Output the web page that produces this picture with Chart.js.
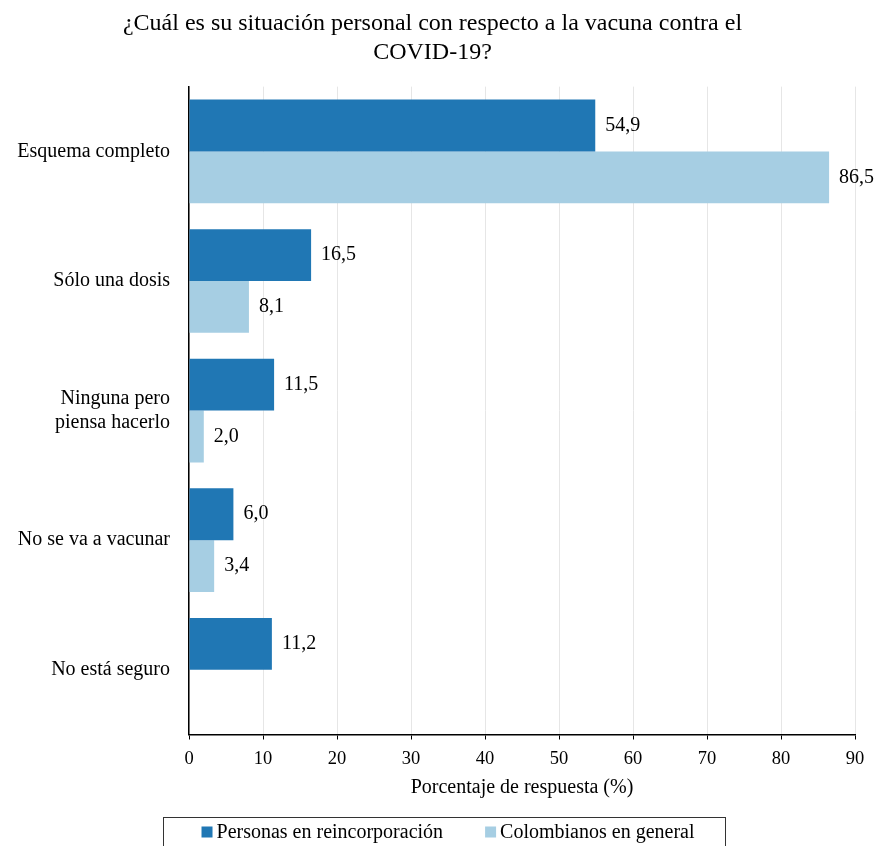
<!DOCTYPE html>
<html>
<head>
<meta charset="utf-8">
<script src="https://cdn.jsdelivr.net/npm/chart.js@4"></script>
<style>
  html, body { margin: 0; padding: 0; background: #fff; }
  #wrap { width: 876px; height: 846px; }
</style>
</head>
<body>
<div id="wrap"><canvas id="vacunaChart"></canvas></div>
<script>
const categories = [
  "Esquema completo",
  "Sólo una dosis",
  ["Ninguna pero", "piensa hacerlo"],
  "No se va a vacunar",
  "No está seguro",
];
const reincorporacion = [54.9, 16.5, 11.5, 6.0, 11.2];
const colombianos = [86.5, 8.1, 2.0, 3.4, null];
const xTicks = [0, 10, 20, 30, 40, 50, 60, 70, 80, 90];

const serif = "'Liberation Serif', 'DejaVu Serif', serif";

// labels "54,9" at the end of each bar
const barLabels = {
  id: "barLabels",
  afterDatasetsDraw(chart) {
    const ctx = chart.ctx;
    ctx.save();
    ctx.font = "20px " + serif;
    ctx.fillStyle = "#000";
    ctx.textBaseline = "middle";
    chart.data.datasets.forEach((ds, i) => {
      chart.getDatasetMeta(i).data.forEach((bar, j) => {
        const v = ds.data[j];
        if (v === null || v === undefined) return;
        ctx.fillText(v.toFixed(1).replace(".", ","), bar.x + 10, bar.y);
      });
    });
    ctx.restore();
  },
};

// boxed legend under the axis title
const boxedLegend = {
  id: "boxedLegend",
  afterDraw(chart) {
    const ctx = chart.ctx;
    const sets = chart.data.datasets;
    const sq = 11, gapText = 4, gapItem = 42;
    ctx.save();
    ctx.font = "20px " + serif;
    const widths = sets.map(ds => sq + gapText + ctx.measureText(ds.label).width);
    const total = widths.reduce((a, b) => a + b, 0) + gapItem * (sets.length - 1);
    let x = chart.width / 2 + 10 - total / 2;
    const y = chart.height - 14;
    ctx.strokeStyle = "#333";
    ctx.lineWidth = 1;
    ctx.strokeRect(Math.round(x - 39) + 0.5, y - 14.5, Math.round(total + 69), 40);
    ctx.textBaseline = "middle";
    sets.forEach((ds, i) => {
      ctx.fillStyle = ds.backgroundColor;
      ctx.fillRect(x, y - sq / 2, sq, sq);
      ctx.fillStyle = "#000";
      ctx.fillText(ds.label, x + sq + gapText, y + 1);
      x += widths[i] + gapItem;
    });
    ctx.restore();
  },
};

new Chart(document.getElementById("vacunaChart"), {
  type: "bar",
  data: {
    labels: categories,
    datasets: [
      {
        label: "Personas en reincorporación",
        data: reincorporacion,
        backgroundColor: "#2077b4",
        categoryPercentage: 0.8,
        barPercentage: 1.0,
      },
      {
        label: "Colombianos en general",
        data: colombianos,
        backgroundColor: "#a6cee3",
        categoryPercentage: 0.8,
        barPercentage: 1.0,
      },
    ],
  },
  options: {
    indexAxis: "y",
    responsive: true,
    maintainAspectRatio: false,
    animation: false,
    layout: { padding: { left: 10, right: 21, top: 0, bottom: 48 } },
    scales: {
      x: {
        min: 0,
        max: 90,
        afterBuildTicks(axis) {
          axis.ticks = xTicks.map(v => ({ value: v }));
        },
        grid: { color: "#e6e6e6", tickColor: "#000", tickLength: 5 },
        border: { color: "#000", width: 1.5 },
        ticks: { color: "#000", font: { family: serif, size: 18.5, lineHeight: 1 }, padding: 10 },
        title: {
          display: true,
          text: "Porcentaje de respuesta (%)",
          color: "#000",
          font: { family: serif, size: 20, lineHeight: 1 },
          padding: { top: 0, bottom: 0 },
        },
      },
      y: {
        afterFit(axis) { axis.width = 179; },
        grid: { display: false },
        border: { color: "#000", width: 1.5 },
        ticks: { color: "#000", font: { family: serif, size: 20 }, padding: 11 },
      },
    },
    plugins: {
      title: {
        display: true,
        text: [
          "¿Cuál es su situación personal con respecto a la vacuna contra el",
          "COVID-19?",
        ],
        color: "#000",
        font: { family: serif, size: 24, weight: "normal", lineHeight: 1.18 },
        padding: { top: 10, bottom: 20 },
      },
      legend: { display: false },
      tooltip: { enabled: false },
    },
  },
  plugins: [barLabels, boxedLegend],
});
</script>
</body>
</html>
